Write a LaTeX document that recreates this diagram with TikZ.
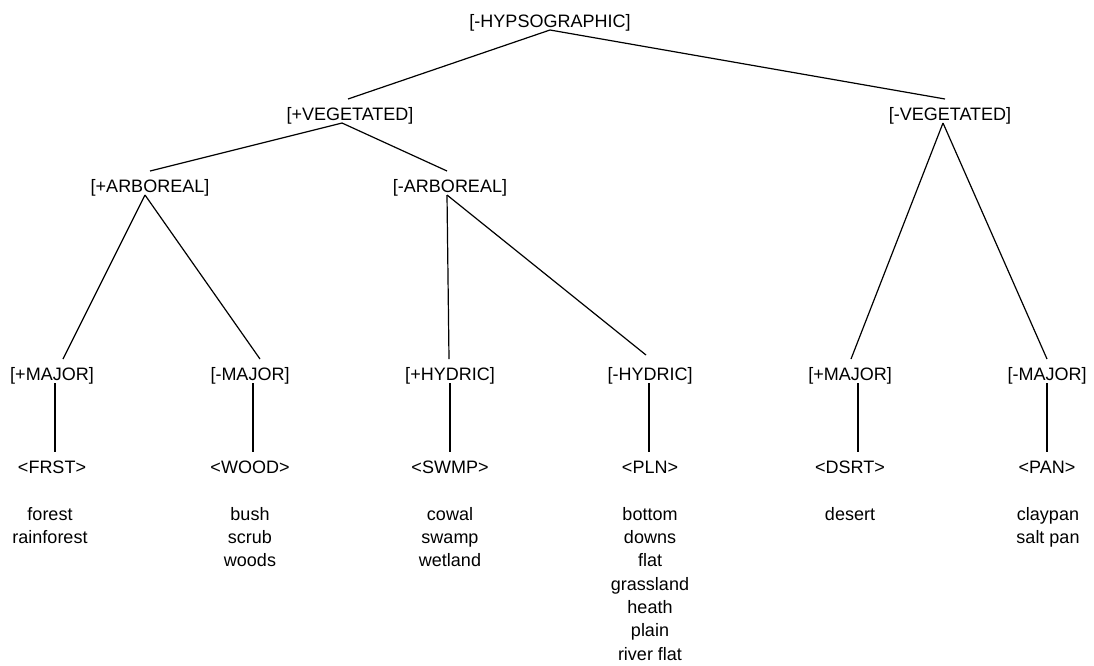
\documentclass[tikz,border=0pt]{standalone}
\usepackage{fontspec}
\setmainfont{Liberation Sans}
\begin{document}
\begin{tikzpicture}[x=1pt,y=-1pt,
  every node/.style={font=\fontsize{18}{23.3}\selectfont, inner sep=0pt},
  feat/.style={anchor=base, text height=18pt, text depth=0pt, outer ysep=3pt},
  words/.style={anchor=north, align=center},
  branch/.style={line width=1.2pt}]
\useasboundingbox (0,0) rectangle (1094,665);
\node[feat] (hyp) at (550,27) {[-HYPSOGRAPHIC]};
\node[feat] (vegp) at (350,120) {[+VEGETATED]};
\node[feat] (vegm) at (950,120) {[-VEGETATED]};
\node[feat] (arbp) at (150,192) {[+ARBOREAL]};
\node[feat] (arbm) at (450,192) {[-ARBOREAL]};
\node[feat] (majp1) at (52,380) {[+MAJOR]};
\node[feat] (majm1) at (250,380) {[-MAJOR]};
\node[feat] (hydp) at (450,380) {[+HYDRIC]};
\node[feat] (hydm) at (650,380) {[-HYDRIC]};
\node[feat] (majp2) at (850,380) {[+MAJOR]};
\node[feat] (majm2) at (1047,380) {[-MAJOR]};
\node[feat] (frst) at (52,473) {<FRST>};
\node[feat] (wood) at (250,473) {<WOOD>};
\node[feat] (swmp) at (450,473) {<SWMP>};
\node[feat] (pln) at (650,473) {<PLN>};
\node[feat] (dsrt) at (850,473) {<DSRT>};
\node[feat] (pan) at (1047,473) {<PAN>};
\node[words] (w1) at (50,503.7) {\strut forest\\rainforest};
\node[words] (w2) at (250,503.7) {\strut bush\\scrub\\woods};
\node[words] (w3) at (450,503.7) {\strut cowal\\swamp\\wetland};
\node[words] (w4) at (650,503.7) {\strut bottom\\downs\\flat\\grassland\\heath\\plain\\river flat};
\node[words] (w5) at (850,503.7) {\strut desert};
\node[words] (w6) at (1048,503.7) {\strut claypan\\salt pan};
\draw[branch] (hyp.south) -- ([xshift=-2pt]vegp.north);
\draw[branch] (hyp.south) -- ([xshift=-5pt]vegm.north);
\draw[branch] ([xshift=-8pt]vegp.south) -- (arbp.north);
\draw[branch] ([xshift=-8pt]vegp.south) -- ([xshift=-3pt]arbm.north);
\draw[branch] ([xshift=-5pt]arbp.south) -- ([xshift=11pt]majp1.north);
\draw[branch] ([xshift=-5pt]arbp.south) -- ([xshift=10pt]majm1.north);
\draw[branch] ([xshift=-3pt]arbm.south) -- ([xshift=-1pt]hydp.north);
\draw[branch] ([xshift=-3pt]arbm.south) -- ([xshift=-4pt,yshift=4pt]hydm.north);
\draw[branch] ([xshift=-7pt]vegm.south) -- ([xshift=1pt]majp2.north);
\draw[branch] ([xshift=-7pt]vegm.south) -- (majm2.north);
\draw[branch] ([xshift=3pt]majp1.south) -- ([xshift=3pt]frst.north);
\draw[branch] ([xshift=3pt]majm1.south) -- ([xshift=3pt]wood.north);
\draw[branch] (hydp.south) -- (swmp.north);
\draw[branch] ([xshift=-1pt]hydm.south) -- ([xshift=-1pt]pln.north);
\draw[branch] ([xshift=8pt]majp2.south) -- ([xshift=8pt]dsrt.north);
\draw[branch] (majm2.south) -- (pan.north);
\end{tikzpicture}
\end{document}
